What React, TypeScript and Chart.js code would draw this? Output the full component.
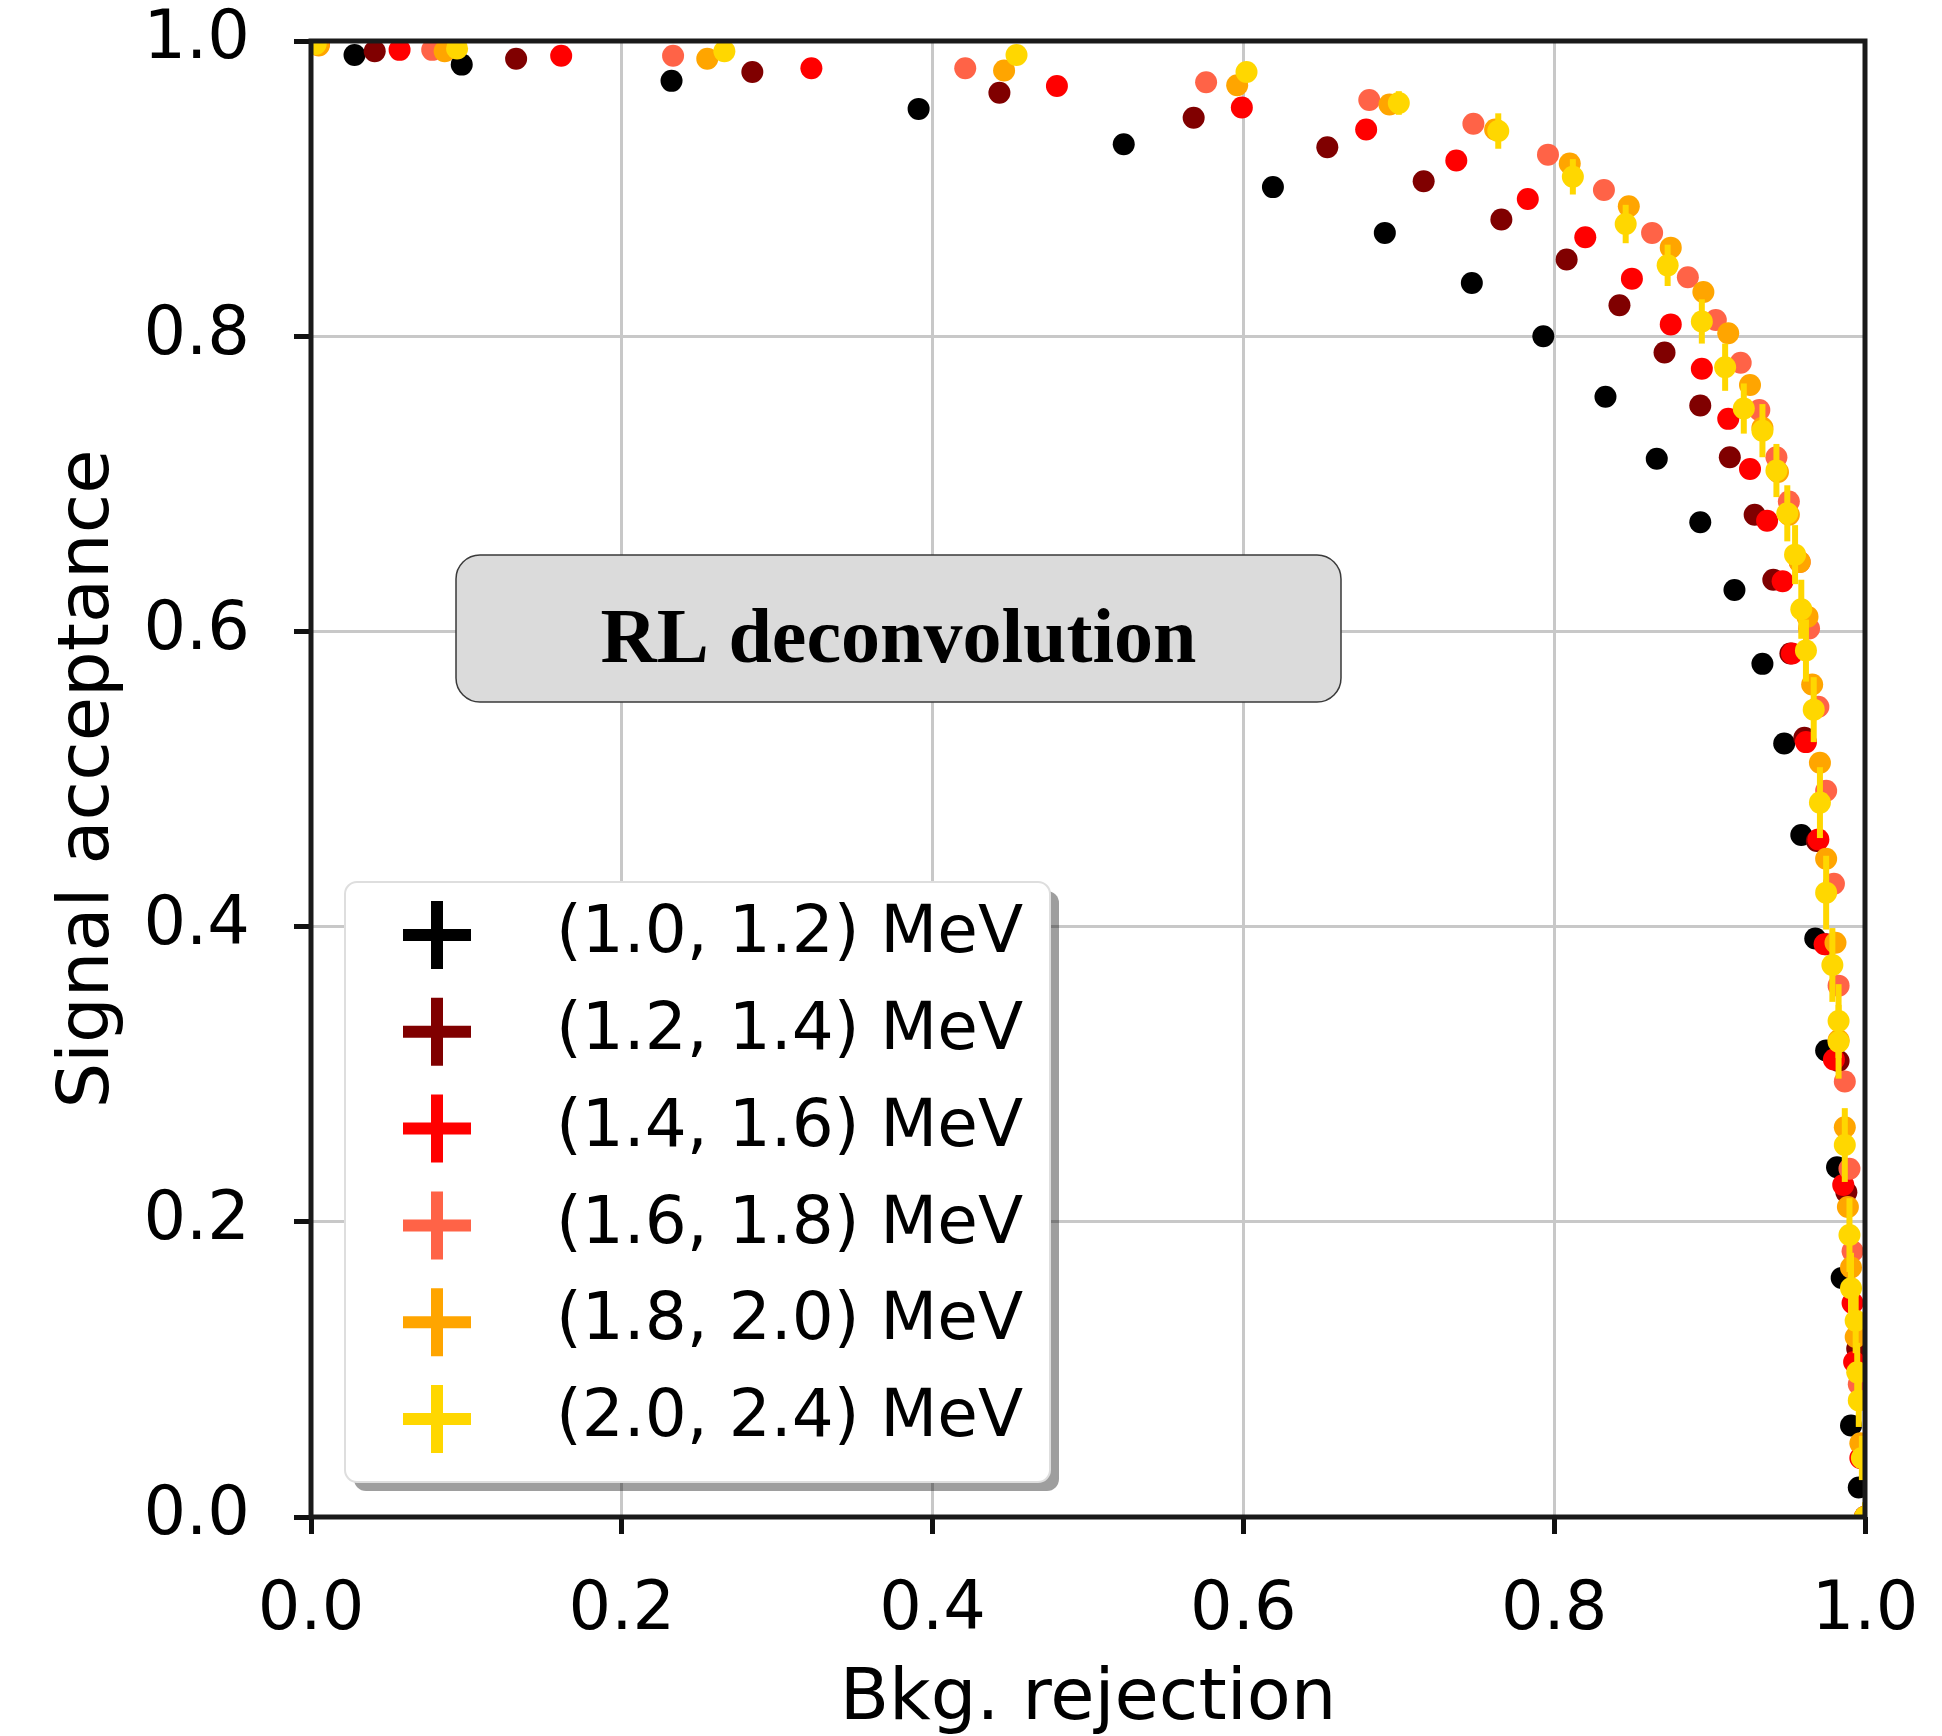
import { useEffect, useRef } from "react";
import { Chart, registerables } from "chart.js";

Chart.register(...registerables);

// ---- data ----
const seriesLabels = [
  "(1.0, 1.2) MeV",
  "(1.2, 1.4) MeV",
  "(1.4, 1.6) MeV",
  "(1.6, 1.8) MeV",
  "(1.8, 2.0) MeV",
  "(2.0, 2.4) MeV",
];
const seriesColors = ["#000000", "#800000", "#ff0000", "#ff6347", "#ffa500", "#ffd700"];

const bkg_10_12 = [0.003, 0.028, 0.097, 0.232, 0.391, 0.523, 0.619, 0.691, 0.747, 0.793, 0.833, 0.866, 0.894, 0.916, 0.934, 0.948, 0.959, 0.968, 0.975, 0.982, 0.985, 0.991, 0.996, 1.0];
const sig_10_12 = [0.998, 0.9905, 0.984, 0.973, 0.954, 0.930, 0.901, 0.870, 0.836, 0.800, 0.759, 0.717, 0.674, 0.628, 0.578, 0.524, 0.462, 0.392, 0.316, 0.237, 0.162, 0.062, 0.02, 0.0];

const bkg_12_14 = [0.004, 0.041, 0.132, 0.284, 0.443, 0.568, 0.654, 0.716, 0.766, 0.808, 0.842, 0.871, 0.894, 0.913, 0.929, 0.941, 0.952, 0.961, 0.969, 0.975, 0.983, 0.988, 0.995, 0.998, 1.0];
const sig_12_14 = [0.998, 0.993, 0.988, 0.979, 0.965, 0.948, 0.928, 0.905, 0.879, 0.852, 0.821, 0.789, 0.753, 0.718, 0.679, 0.635, 0.585, 0.528, 0.458, 0.388, 0.309, 0.22, 0.114, 0.04, 0.0];

const bkg_14_16 = [0.005, 0.057, 0.161, 0.322, 0.480, 0.599, 0.679, 0.737, 0.783, 0.820, 0.850, 0.875, 0.895, 0.912, 0.926, 0.937, 0.947, 0.953, 0.962, 0.970, 0.974, 0.980, 0.986, 0.992, 0.993, 0.997, 1.0];
const sig_14_16 = [0.998, 0.994, 0.990, 0.9815, 0.9695, 0.955, 0.940, 0.919, 0.893, 0.867, 0.839, 0.808, 0.778, 0.744, 0.710, 0.675, 0.634, 0.585, 0.525, 0.459, 0.388, 0.31, 0.225, 0.145, 0.105, 0.04, 0.0];

const bkg_16_18 = [0.005, 0.078, 0.233, 0.421, 0.576, 0.681, 0.748, 0.796, 0.832, 0.863, 0.886, 0.904, 0.920, 0.932, 0.943, 0.951, 0.958, 0.964, 0.970, 0.975, 0.980, 0.983, 0.987, 0.990, 0.992, 0.996, 1.0];
const sig_16_18 = [0.998, 0.994, 0.990, 0.9815, 0.972, 0.960, 0.944, 0.923, 0.899, 0.870, 0.840, 0.811, 0.782, 0.750, 0.718, 0.688, 0.647, 0.602, 0.549, 0.492, 0.429, 0.360, 0.295, 0.236, 0.180, 0.09, 0.0];

const bkg_18_20 = [0.005, 0.086, 0.255, 0.446, 0.596, 0.694, 0.762, 0.810, 0.848, 0.875, 0.896, 0.912, 0.926, 0.934, 0.944, 0.951, 0.958, 0.963, 0.966, 0.971, 0.975, 0.981, 0.983, 0.987, 0.989, 0.991, 0.994, 0.997, 1.0];
const sig_18_20 = [0.997, 0.993, 0.988, 0.980, 0.970, 0.957, 0.940, 0.917, 0.888, 0.860, 0.830, 0.802, 0.767, 0.738, 0.708, 0.679, 0.647, 0.610, 0.564, 0.511, 0.446, 0.389, 0.323, 0.264, 0.210, 0.169, 0.122, 0.05, 0.0];

const bkg_20_24 = [0.003, 0.094, 0.266, 0.454, 0.602, 0.700, 0.764, 0.812, 0.846, 0.873, 0.895, 0.910, 0.922, 0.934, 0.943, 0.950, 0.955, 0.959, 0.962, 0.967, 0.971, 0.975, 0.979, 0.983, 0.983, 0.987, 0.990, 0.991, 0.994, 0.995, 0.996, 0.998, 1.0];
const sig_20_24 = [0.998, 0.995, 0.993, 0.9905, 0.979, 0.958, 0.939, 0.908, 0.876, 0.848, 0.810, 0.779, 0.751, 0.736, 0.709, 0.680, 0.652, 0.615, 0.587, 0.547, 0.484, 0.423, 0.374, 0.336, 0.322, 0.252, 0.191, 0.155, 0.133, 0.098, 0.079, 0.04, 0.0];
const yerr_20_24 = [0.001, 0.002, 0.003, 0.004, 0.006, 0.008, 0.012, 0.012, 0.013, 0.014, 0.015, 0.016, 0.017, 0.018, 0.018, 0.019, 0.02, 0.02, 0.021, 0.022, 0.024, 0.025, 0.025, 0.025, 0.025, 0.025, 0.025, 0.024, 0.022, 0.02, 0.018, 0.015, 0.01];

const seriesX = [bkg_10_12, bkg_12_14, bkg_14_16, bkg_16_18, bkg_18_20, bkg_20_24];
const seriesY = [sig_10_12, sig_12_14, sig_14_16, sig_16_18, sig_18_20, sig_20_24];
const seriesYErr = [null, null, null, null, null, yerr_20_24];

const tickValues = [0, 0.2, 0.4, 0.6, 0.8, 1.0];
const xTitle = "Bkg. rejection";
const yTitle = "Signal acceptance";
const boxText = "RL deconvolution";

const SANS = "'DejaVu Sans', sans-serif";

export default function App() {
  const ref = useRef<HTMLCanvasElement | null>(null);

  useEffect(() => {
    const canvas = ref.current;
    if (!canvas) return;

    const target = { left: 311, top: 41, right: 1865, bottom: 1517 };
    const dims = { yWidth: target.left, xHeight: 1736 - target.bottom };

    const bgPlugin = {
      id: "bg",
      beforeDraw(chart: any) {
        const ctx = chart.ctx;
        ctx.save();
        ctx.fillStyle = "#ffffff";
        ctx.fillRect(0, 0, chart.width, chart.height);
        ctx.restore();
      },
    };

    const errPlugin = {
      id: "errbars",
      beforeDatasetDraw(chart: any, args: any) {
        const err = seriesYErr[args.index];
        if (!err) return;
        const ds = chart.data.datasets[args.index];
        const xs = chart.scales.x;
        const ys = chart.scales.y;
        const a = chart.chartArea;
        const ctx = chart.ctx;
        ctx.save();
        ctx.beginPath();
        ctx.rect(a.left, a.top, a.right - a.left, a.bottom - a.top);
        ctx.clip();
        ctx.strokeStyle = seriesColors[args.index];
        ctx.lineWidth = 6;
        ds.data.forEach((p: any, i: number) => {
          const px = xs.getPixelForValue(p.x);
          ctx.beginPath();
          ctx.moveTo(px, ys.getPixelForValue(p.y - err[i]));
          ctx.lineTo(px, ys.getPixelForValue(p.y + err[i]));
          ctx.stroke();
        });
        ctx.restore();
      },
    };

    const framePlugin = {
      id: "frame",
      afterDatasetsDraw(chart: any) {
        const a = chart.chartArea;
        const ctx = chart.ctx;
        ctx.save();
        ctx.strokeStyle = "#1a1a1a";
        ctx.lineWidth = 5;
        ctx.strokeRect(a.left, a.top, a.right - a.left, a.bottom - a.top);
        ctx.restore();
      },
    };

    const overlayPlugin = {
      id: "overlay",
      afterDraw(chart: any) {
        const a = chart.chartArea;
        const ctx = chart.ctx;
        ctx.save();

        // annotation box
        const bx = a.left + 145, by = a.top + 514, bw = 885, bh = 147;
        ctx.beginPath();
        ctx.roundRect(bx, by, bw, bh, 24);
        ctx.fillStyle = "#dbdbdb";
        ctx.fill();
        ctx.lineWidth = 1.5;
        ctx.strokeStyle = "#3a3a3a";
        ctx.stroke();
        ctx.fillStyle = "#000";
        ctx.font = "bold 78px 'Liberation Serif', serif";
        ctx.textAlign = "center";
        ctx.textBaseline = "alphabetic";
        ctx.fillText(boxText, bx + bw / 2, by + 107);

        // legend
        const lx = a.left + 34, ly = a.top + 841, lw = 705, lh = 600;
        ctx.beginPath();
        ctx.roundRect(lx + 9, ly + 9, lw, lh, 12);
        ctx.fillStyle = "rgba(0,0,0,0.38)";
        ctx.fill();
        ctx.beginPath();
        ctx.roundRect(lx, ly, lw, lh, 12);
        ctx.fillStyle = "#ffffff";
        ctx.fill();
        ctx.lineWidth = 2;
        ctx.strokeStyle = "#dedede";
        ctx.stroke();

        ctx.font = "66px " + SANS;
        ctx.textAlign = "left";
        ctx.textBaseline = "middle";
        seriesLabels.forEach((lab, i) => {
          const cy = ly + 53 + i * 96.8;
          const cx = lx + 92;
          ctx.strokeStyle = seriesColors[i];
          ctx.lineWidth = 12;
          ctx.lineCap = "butt";
          ctx.beginPath();
          ctx.moveTo(cx - 34, cy);
          ctx.lineTo(cx + 34, cy);
          ctx.moveTo(cx, cy - 34);
          ctx.lineTo(cx, cy + 34);
          ctx.stroke();
          ctx.fillStyle = "#000";
          ctx.fillText(lab, lx + 211, cy);
        });
        ctx.restore();
      },
    };

    const datasets = seriesX.map((xs, i) => ({
      label: seriesLabels[i],
      data: xs.map((x, j) => ({ x, y: seriesY[i][j] })),
      backgroundColor: seriesColors[i],
      borderColor: seriesColors[i],
      borderWidth: 0,
      pointRadius: 11,
      pointHoverRadius: 11,
      pointStyle: "circle",
      showLine: false,
      clip: 0,
      order: seriesX.length - 1 - i,
    }));

    const setTicks = (scale: any) => {
      scale.ticks = tickValues.map((v) => ({ value: v }));
    };

    const chart = new Chart(canvas, {
      type: "scatter",
      data: { datasets: datasets as any },
      options: {
        responsive: false,
        animation: false,
        devicePixelRatio: 1,
        layout: { padding: { top: target.top, right: 1942 - target.right, left: 0, bottom: 0 } },
        plugins: {
          legend: { display: false },
          tooltip: { enabled: false },
        },
        scales: {
          x: {
            type: "linear",
            min: 0,
            max: 1,
            afterBuildTicks: setTicks,
            afterFit: (scale: any) => {
              scale.height = dims.xHeight;
              scale.paddingLeft = 0;
              scale.paddingRight = 0;
              scale.paddingTop = 0;
              scale.paddingBottom = 0;
            },
            ticks: {
              color: "#000",
              font: { family: SANS, size: 67 },
              padding: 37,
              maxRotation: 0,
              callback: (v: any) => Number(v).toFixed(1),
            },
            grid: {
              color: "#c8c8c8",
              lineWidth: 3,
              tickColor: "#111",
              tickWidth: 5,
              tickLength: 17,
            },
            border: { display: false },
            title: {
              display: true,
              text: xTitle,
              color: "#000",
              font: { family: SANS, size: 72, lineHeight: 0.98 },
              padding: { top: 0, bottom: 0 },
            },
          },
          y: {
            type: "linear",
            min: 0,
            max: 1,
            afterBuildTicks: setTicks,
            afterFit: (scale: any) => {
              scale.width = dims.yWidth;
              scale.paddingLeft = 0;
              scale.paddingRight = 0;
              scale.paddingTop = 0;
              scale.paddingBottom = 0;
            },
            ticks: {
              color: "#000",
              font: { family: SANS, size: 67 },
              padding: 44,
              callback: (v: any) => Number(v).toFixed(1),
            },
            grid: {
              color: "#c8c8c8",
              lineWidth: 3,
              tickColor: "#111",
              tickWidth: 5,
              tickLength: 17,
            },
            border: { display: false },
            title: {
              display: true,
              text: yTitle,
              color: "#000",
              font: { family: SANS, size: 72, lineHeight: 1 },
              padding: { top: 53, bottom: 0 },
            },
          },
        },
      },
      plugins: [bgPlugin, errPlugin, framePlugin, overlayPlugin],
    });

    // safety correction so the plot area sits exactly where intended
    const a = chart.chartArea;
    if (a && (Math.abs(a.top - target.top) > 0.5 || Math.abs(a.bottom - target.bottom) > 0.5 || Math.abs(a.left - target.left) > 0.5 || Math.abs(a.right - target.right) > 0.5)) {
      const pad: any = (chart.options as any).layout.padding;
      const p = typeof pad === "object" ? pad : { top: target.top, right: 1942 - target.right, left: 0, bottom: 0 };
      (chart.options as any).layout.padding = {
        top: (p.top || 0) + (target.top - a.top),
        right: (p.right || 0) + (a.right - target.right),
        left: 0,
        bottom: 0,
      };
      dims.xHeight += a.bottom - target.bottom;
      dims.yWidth += target.left - a.left;
      chart.update();
    }

    return () => {
      chart.destroy();
    };
  }, []);

  return (
    <div style={{ position: "fixed", left: 0, top: 0, width: 1942, height: 1736, background: "#fff" }}>
      <canvas ref={ref} width={1942} height={1736} style={{ width: 1942, height: 1736, display: "block" }} />
    </div>
  );
}
